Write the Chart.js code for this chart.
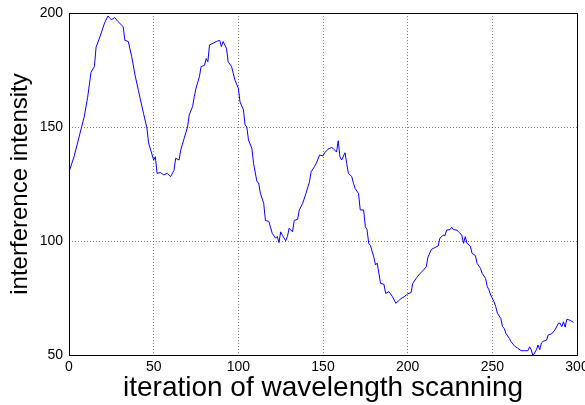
<!DOCTYPE html>
<html>
<head>
<meta charset="utf-8">
<script src="https://cdn.jsdelivr.net/npm/chart.js@4/dist/chart.umd.min.js"></script>
<style>
  html, body { margin: 0; padding: 0; background: #fff; }
  #wrap { width: 585px; height: 405px; }
</style>
</head>
<body>
<div id="wrap"><canvas id="myChart" width="585" height="405"></canvas></div>
<script>
// values
let iterations=[0,3,7,9,11,13,15,16,18,20,21,23,25,27,29,32,33,35,37,39,41,42,44,46,47,50,51,52,54,56,58,60,62,63,65,66,68,70,71,73,74,75,77,78,80,81,82,83,85,87,89,90,91,93,94,96,98,
  100,101,103,104,105,106,108,109,111,112,113,115,116,118,120,122,123,124,125,126,128,129,130,132,133,135,136,138,140,142,143,145,146,148,150,151,153,155,156,158,159,
  160,161,163,164,165,167,168,169,171,172,174,175,176,177,178,180,181,182,184,186,187,189,191,193,195,196,198,
  200,202,203,205,207,209,211,212,214,216,218,219,221,222,223,225,226,227,229,230,232,233,234,235,237,238,240,241,243,244,246,247,248,249,
  251,252,253,255,256,257,258,260,261,263,265,267,269,271,272,273,274,276,277,278,279,280,282,283,285,287,289,290,291,292,293,294,296,298];
let intensity=[130.3,137,148.7,154.5,163,174,176.5,185,189,193.4,195.6,198.7,197,198,196.2,194,188,187.5,181,172.8,166,162.6,156,149.6,143,135.5,137,129.7,130,129,129.7,128.2,131,136.3,135.5,140,145,150,155.3,159,163.3,167,172,176.5,177,180,178.6,186,186.7,187.5,188,185.3,187.5,184.5,178.6,176.5,170.6,
  167,161,157.5,150.9,150,144.3,140.6,134,126,125.5,121,116.5,109,108.6,103.4,101.2,102,99.3,104,102.5,100.1,102,105.6,104,109,109.5,113.6,116.5,121,126,130.4,132.6,134,137.7,137.3,138.7,140.3,141,140.6,139,144,
  137,135.5,138.7,134,129.7,128.2,125.3,123,120.8,113.6,113.6,106.3,105,99,98,93,89.5,90.3,81.4,81,77,77.8,75.6,72.7,74,74.7,75.6,
  76.8,77.4,81.4,83.6,85.5,87,88.7,93,96.3,97.1,97.8,101.2,102.6,102.3,104.8,105,106,105,104.8,104,102.6,99,101.9,99,97.8,94.6,93.6,90.2,88,85.8,83.6,80,78.6,76.3,
  73.4,71.2,68.3,66,62.4,61.7,59.5,57.3,55.9,54,53,51.9,51.9,51.9,53.6,52.3,49.6,52.3,54.4,52.3,55.3,56,56.5,58.8,59.3,61,63.9,64,62.4,64.6,62.2,65.7,65.2,64.3];
let xTicks=[0,50,100,150,200,250,300];
let yTicks=[50,100,150,200];

let points=[];
for(let i=0;i<iterations.length;i++){
    points.push({x:iterations[i],y:intensity[i]});
}

// black frame around the plot, like the matlab axes box
const boxPlugin={
    id:"box",
    afterDraw(chart){
        let a=chart.chartArea;
        let c=chart.ctx;
        c.save();
        c.strokeStyle="#000";
        c.lineWidth=1;
        c.strokeRect(Math.round(a.left)+0.5,Math.round(a.top)+0.5,Math.round(a.right-a.left),Math.round(a.bottom-a.top));
        c.restore();
    }
};

let ctx=document.getElementById("myChart").getContext("2d");
new Chart(ctx,{
    type:"line",
    data:{
        datasets:[{
            data:points,
            borderColor:"#0000ff",
            borderWidth:1,
            pointRadius:0,
            tension:0,
            fill:false
        }]
    },
    options:{
        responsive:false,
        animation:false,
        layout:{padding:{left:0,top:13,right:8,bottom:0}},
        plugins:{legend:{display:false},tooltip:{enabled:false}},
        scales:{
            x:{
                type:"linear",
                min:0,max:300,
                afterBuildTicks:function(s){ s.ticks=xTicks.map(v=>({value:v})); },
                afterFit:function(s){ s.height=50; s.paddingLeft=0; s.paddingRight=0; },
                grid:{color:"#444",lineWidth:0.7,drawTicks:false},
                border:{display:false,dash:[1,2]},
                ticks:{color:"#000",padding:4,font:{family:"Liberation Sans, Arial",size:14}},
                title:{display:true,text:"iteration of wavelength scanning",color:"#000",
                    font:{family:"Liberation Sans, Arial",size:28},padding:{top:0,bottom:0}}
            },
            y:{
                min:50,max:200,
                afterBuildTicks:function(s){ s.ticks=yTicks.map(v=>({value:v})); },
                afterFit:function(s){ s.width=69; s.paddingTop=0; s.paddingBottom=0; },
                grid:{color:"#444",lineWidth:0.7,drawTicks:false},
                border:{display:false,dash:[1,2]},
                ticks:{color:"#000",padding:6,font:{family:"Liberation Sans, Arial",size:14}},
                title:{display:true,text:"interference intensity",color:"#000",
                    font:{family:"Liberation Sans, Arial",size:24},padding:{top:6,bottom:0}}
            }
        }
    },
    plugins:[boxPlugin]
});
</script>
</body>
</html>
